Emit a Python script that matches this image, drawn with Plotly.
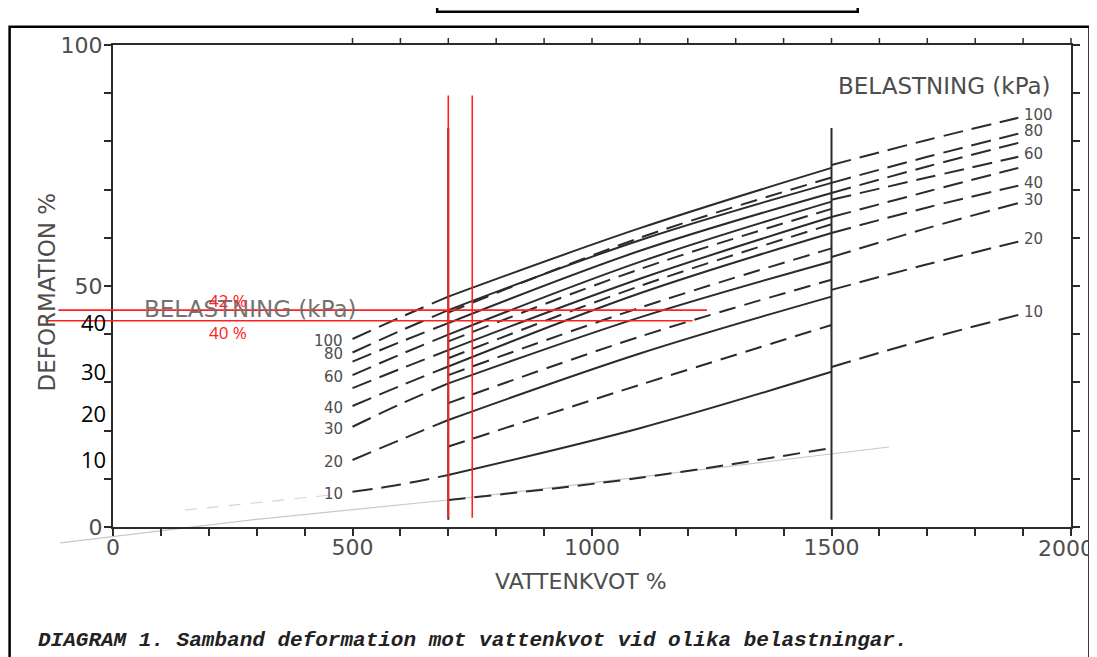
import plotly.graph_objects as go

# ---------------- data ----------------
load_labels = ["10", "20", "30", "40", "", "60", "", "80", "100"]

x_left = [500, 600, 700]
x_mid = [700, 1100, 1500]
x_right = [1500, 1700, 1890]

left_vals = [
    [7.3, 8.8, 10.8],
    [13.9, 18.1, 22.2],
    [20.8, 25.5, 29.8],
    [25.1, 29.3, 33.3],
    [28.8, 32.8, 36.7],
    [31.5, 35.8, 39.9],
    [34.3, 38.4, 42.3],
    [36.2, 40.7, 45.0],
    [39.0, 43.5, 47.8],
]
mid_vals = [
    [10.8, 20.5, 32.2],
    [22.2, 36.0, 47.8],
    [29.8, 43.5, 55.1],
    [33.3, 48.5, 61.0],
    [36.7, 51.5, 64.3],
    [39.9, 55.0, 67.5],
    [42.3, 57.3, 69.3],
    [45.0, 59.5, 71.4],
    [47.8, 62.0, 74.5],
]
right_vals = [
    [33.2, 39.0, 44.0],
    [49.2, 54.5, 59.2],
    [56.0, 62.0, 67.2],
    [61.0, 66.3, 70.8],
    [64.3, 69.6, 74.5],
    [67.9, 72.5, 76.8],
    [69.3, 74.8, 79.7],
    [71.4, 76.8, 81.6],
    [75.1, 80.3, 84.9],
]
# intermediate dashed curves inside 700-1500
inter_vals = [
    [5.6, 10.2, 16.4],
    [16.7, 29.5, 41.9],
    [25.7, 39.5, 51.3],
    [31.5, 45.5, 57.8],
    [35.0, 50.0, 62.8],
    [38.5, 53.5, 66.0],
    [44.5, 60.0, 72.5],
]
# faint bleed-through lines of the scan
faint_x = [-110, 300, 700, 1620]
faint_y = [-3.3, 1.6, 5.6, 16.6]
faint2_x = [150, 450]
faint2_y = [3.5, 6.6]

x_ticks = list(range(0, 2001, 100))
x_label_vals = [0, 500, 1000, 1500]
x_last_label = 2000
x_ticklabels = [str(v) if v in x_label_vals else "" for v in x_ticks]
top_ticks = list(range(500, 2001, 100))
y_ticks = list(range(0, 101, 10))
y_ticklabels = [str(v) if v % 50 == 0 else "" for v in y_ticks]

marker_lines_x = [700, 1500]          # black vertical reference lines
marker_lines_y = [1.5, 82.8]
red_vlines_x = [700, 750]
red_vlines_y = [1.9, 89.5]
red_hlines = [(45.0, -114, 1240), (42.8, -141, 1210)]

# ---------------- layout geometry ----------------
OFF = 8                      # page body margin of the browser
W, H = 1097 - OFF, 657 - OFF
X0PX, X1PX = 112.5 - OFF, 1071.5 - OFF
Y0PX, Y1PX = 527 - OFF, 45.2 - OFF
ML, MR, MT, MB = X0PX, W - X1PX, Y1PX, H - Y0PX
XR = (0, 2000)
YR = (0, 100)


def px(x):
    return (x - XR[0]) / (XR[1] - XR[0])


def py(y):
    return (y - YR[0]) / (YR[1] - YR[0])


def ppx(p):  # reference pixel -> paper (decorations only)
    return (p - OFF - ML) / (W - ML - MR)


def ppy(p):
    return (H - MB - (p - OFF)) / (H - MB - MT)


INK = "#2b2b2b"
GREY = "#4d4d4d"
FONT = "DejaVu Sans"

fig = go.Figure()

for i in range(len(load_labels)):
    fig.add_trace(go.Scatter(x=x_left, y=left_vals[i], mode="lines",
                             line=dict(color=INK, width=2, dash="20px,9px", shape="spline"),
                             showlegend=False))
    fig.add_trace(go.Scatter(x=x_mid, y=mid_vals[i], mode="lines",
                             line=dict(color=INK, width=2, shape="spline"), showlegend=False))
    fig.add_trace(go.Scatter(x=x_right, y=right_vals[i], mode="lines",
                             line=dict(color=INK, width=2, dash="20px,9px", shape="spline"),
                             showlegend=False))
for v in inter_vals:
    fig.add_trace(go.Scatter(x=x_mid, y=v, mode="lines",
                             line=dict(color=INK, width=2, dash="17px,9px", shape="spline"),
                             showlegend=False))

shapes = []
# faint scan lines (paper coords so they may leave the plot area)
path = "M " + " L ".join(f"{px(a):.5f},{py(b):.5f}" for a, b in zip(faint_x, faint_y))
shapes.append(dict(type="path", xref="paper", yref="paper", path=path, layer="below",
                   line=dict(color="#c8c8c8", width=1.2)))
path2 = "M " + " L ".join(f"{px(a):.5f},{py(b):.5f}" for a, b in zip(faint2_x, faint2_y))
shapes.append(dict(type="path", xref="paper", yref="paper", path=path2, layer="below",
                   line=dict(color="#d6d6d6", width=1.2, dash="12px,10px")))

for xv in marker_lines_x:
    shapes.append(dict(type="line", xref="x", yref="y", x0=xv, x1=xv, y0=marker_lines_y[0], y1=marker_lines_y[1],
                       line=dict(color=INK, width=2)))
# top ticks
for t in top_ticks:
    shapes.append(dict(type="line", xref="paper", yref="paper", x0=px(t), x1=px(t), y0=1, y1=1 + 7 / (H - MT - MB),
                       line=dict(color=INK, width=1.5)))
# red overlays
for xv in red_vlines_x:
    shapes.append(dict(type="line", xref="paper", yref="paper", x0=px(xv), x1=px(xv),
                       y0=py(red_vlines_y[0]), y1=py(red_vlines_y[1]), line=dict(color="#ff2020", width=1.6)))
for yv, xa, xb in red_hlines:
    shapes.append(dict(type="line", xref="paper", yref="paper", x0=px(xa), x1=px(xb), y0=py(yv), y1=py(yv),
                       line=dict(color="#ff2020", width=1.6)))
# frame and clipped box of the page
shapes.append(dict(type="rect", xref="paper", yref="paper", x0=ppx(9), x1=ppx(1090), y0=ppy(700), y1=ppy(27),
                   line=dict(color="black", width=2.5)))
shapes.append(dict(type="rect", xref="paper", yref="paper", x0=ppx(437), x1=ppx(858), y0=ppy(12), y1=ppy(-5),
                   line=dict(color="black", width=2.5)))

ann = []
for i, lab in enumerate(load_labels):
    if not lab:
        continue
    ann.append(dict(x=485, y=left_vals[i][0] - 0.4, xref="x", yref="y", text=lab, showarrow=False,
                    xanchor="right", yanchor="middle", font=dict(family=FONT, size=15, color=GREY)))
    ann.append(dict(x=1897, y=right_vals[i][2] + 0.6, xref="x", yref="y", text=lab, showarrow=False,
                    xanchor="left", yanchor="middle", font=dict(family=FONT, size=15, color=GREY)))


def note(xp, yp, text, size, color, family=FONT, xanchor="center", angle=0):
    ann.append(dict(x=ppx(xp), y=ppy(yp), xref="paper", yref="paper", text=text, showarrow=False,
                    xanchor=xanchor, yanchor="middle", textangle=angle,
                    font=dict(family=family, size=size, color=color)))


# last x tick label, kept inside the page edge like in the scan
note(1097, 548, str(x_last_label), 22, GREY, xanchor="right")
note(945, 86, "BELASTNING (kPa)", 23, GREY)
note(250, 309, "BELASTNING (kPa)", 23, "#737373")
note(581, 581, "VATTENKVOT %", 22, GREY)
note(46, 292, "DEFORMATION %", 23, GREY, angle=-90)
for txt, ypx in [("40", 322), ("30", 371), ("20", 413), ("10", 459)]:
    note(93, ypx, txt, 22, "black", family="Open Sans")
note(228, 301, "42 %", 17, "#ff2020", family="Open Sans")
note(228, 333, "40 %", 17, "#ff2020", family="Open Sans")
note(35, 640, "<b><i>DIAGRAM 1. Samband deformation mot vattenkvot vid olika belastningar.</i></b>",
     21, "#222222", family="Liberation Mono", xanchor="left")

fig.update_layout(
    width=W, height=H,
    margin=dict(l=ML, r=MR, t=MT, b=MB, pad=0, autoexpand=False),
    paper_bgcolor="white", plot_bgcolor="white",
    showlegend=False,
    shapes=shapes, annotations=ann,
    xaxis=dict(range=list(XR), tickvals=x_ticks, ticktext=x_ticklabels, ticks="outside", ticklen=7,
               tickwidth=1.5, tickcolor=INK, showline=True, linecolor=INK, linewidth=2, mirror=True,
               showgrid=False, zeroline=False, automargin=False,
               ticklabelstandoff=-7, tickfont=dict(family=FONT, size=22, color=GREY)),
    yaxis=dict(range=list(YR), tickvals=y_ticks, ticktext=y_ticklabels, ticks="outside", ticklen=7,
               tickwidth=1.5, tickcolor=INK, showline=True, linecolor=INK, linewidth=2, mirror="ticks",
               showgrid=False, zeroline=False, automargin=False, ticklabeloverflow="allow",
               ticklabelstandoff=-3, tickfont=dict(family=FONT, size=22, color=GREY)),
)

fig.write_html("out.html")
